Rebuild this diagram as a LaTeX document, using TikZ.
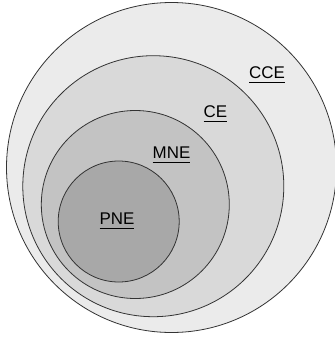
\documentclass[tikz,border=0pt]{standalone}
\usepackage{fontspec}
\setmainfont{Liberation Sans}
\definecolor{ringA}{HTML}{EBEBEB}
\definecolor{ringB}{HTML}{D9D9D9}
\definecolor{ringC}{HTML}{C3C3C3}
\definecolor{ringD}{HTML}{A8A8A8}
\definecolor{edge}{HTML}{333333}
% underlined label with the rule set a little below the baseline
\newcommand\setlabel[1]{\setbox0\hbox{#1}\rlap{\rule[-4.3bp]{\wd0}{1bp}}\box0}
\begin{document}
\begin{tikzpicture}[x=1bp,y=-1bp,
  region/.style={circle,draw=edge,line width=0.8bp,inner sep=0pt,outer sep=0pt},
  tag/.style={anchor=base,inner sep=0pt,font=\fontsize{17}{19}\selectfont}]
  \useasboundingbox (0,0) rectangle (335,341);
  \node[region,fill=ringA,minimum size=330bp] (cce) at (171.5,167.5) {};
  \node[region,fill=ringB,minimum size=261bp] (ce) at (153.3,186.2) {};
  \node[region,fill=ringC,minimum size=188bp] (mne) at (135.3,204.5) {};
  \node[region,fill=ringD,minimum size=121bp] (pne) at (118.7,221.5) {};
  \node[tag] (lcce) at (267,78.7) {\setlabel{CCE}};
  \node[tag] (lce) at (215.5,117.3) {\setlabel{CE}};
  \node[tag] (lmne) at (171.5,158.7) {\setlabel{MNE}};
  \node[tag] (lpne) at (117,224.7) {\setlabel{PNE}};
\end{tikzpicture}
\end{document}
